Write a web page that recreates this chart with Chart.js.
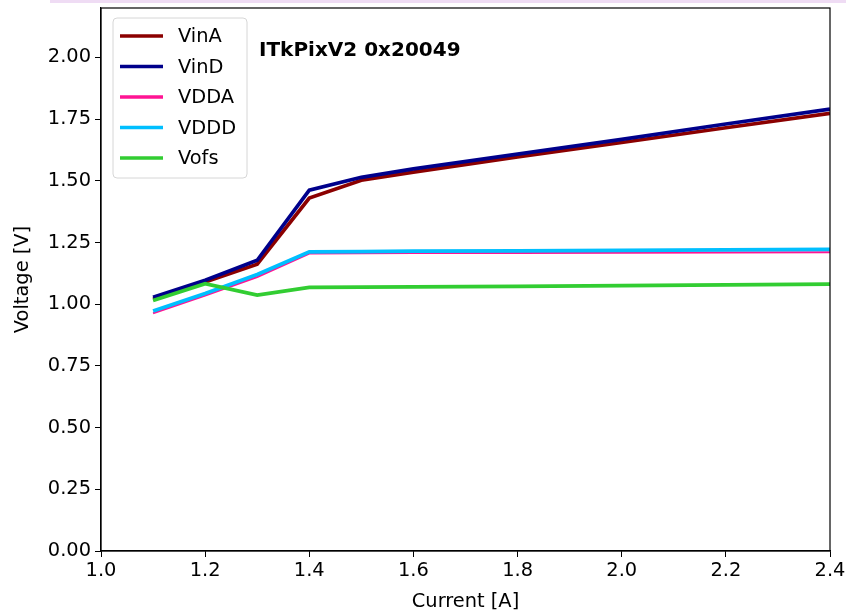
<!DOCTYPE html>
<html>
<head>
<meta charset="utf-8">
<script src="https://cdn.jsdelivr.net/npm/chart.js@4"></script>
<style>
  body { margin: 0; background: #fff; }
  #wrap { position: relative; width: 846px; height: 614px; }
  #strip { position: absolute; left: 50px; top: 0; width: 796px; height: 3px; background: #efdcf4; }
</style>
</head>
<body>
<div id="wrap">
  <canvas id="c" width="846" height="614"></canvas>
  <div id="strip"></div>
</div>
<script>
// measured supply voltages vs input current
const current = [1.1, 1.2, 1.3, 1.4, 1.5, 1.6, 1.8, 2.0, 2.2, 2.4];
const vinA = [1.02, 1.09, 1.162, 1.43, 1.502, 1.535, 1.597, 1.655, 1.715, 1.773];
const vinD = [1.028, 1.097, 1.178, 1.462, 1.514, 1.548, 1.608, 1.668, 1.73, 1.79];
const vdda = [0.963, 1.035, 1.11, 1.205, 1.206, 1.207, 1.207, 1.208, 1.209, 1.21];
const vddd = [0.972, 1.043, 1.12, 1.212, 1.213, 1.215, 1.216, 1.218, 1.22, 1.222];
const vofs = [1.015, 1.083, 1.037, 1.068, 1.069, 1.07, 1.072, 1.075, 1.078, 1.081];

const names = ['VinA', 'VinD', 'VDDA', 'VDDD', 'Vofs'];
const colors = ['#8b0000', '#00008b', '#ff1493', '#00bfff', '#32cd32'];
const widths = [3.7, 3.7, 2, 3.7, 3.7];
const series = [vinA, vinD, vdda, vddd, vofs];

const xTicks = [1.0, 1.2, 1.4, 1.6, 1.8, 2.0, 2.2, 2.4];
const yTicks = [0, 0.25, 0.5, 0.75, 1.0, 1.25, 1.5, 1.75, 2.0];

const FONT = 'DejaVu Sans';
const FS = 19.4;

const datasets = series.map((s, i) => ({
  label: names[i],
  data: s.map((v, j) => ({x: current[j], y: v})),
  borderColor: colors[i],
  backgroundColor: colors[i],
  borderWidth: widths[i],
  pointRadius: 0,
  tension: 0,
  order: 5 - i
}));

// frame, title and legend inside the axes
const extras = {
  id: 'extras',
  afterDraw(chart) {
    const ctx = chart.ctx;
    const a = chart.chartArea;
    ctx.save();
    ctx.strokeStyle = '#000';
    ctx.lineWidth = 1.2;
    ctx.strokeRect(a.left, a.top, a.right - a.left, a.bottom - a.top);

    ctx.fillStyle = '#000';
    ctx.font = 'bold 20px "' + FONT + '"';
    ctx.textBaseline = 'middle';
    ctx.fillText('ITkPixV2 0x20049', 259, 51);

    // legend box
    const bx = 113, by = 18, bw = 134, bh = 160, r = 4;
    ctx.beginPath();
    ctx.moveTo(bx + r, by);
    ctx.arcTo(bx + bw, by, bx + bw, by + bh, r);
    ctx.arcTo(bx + bw, by + bh, bx, by + bh, r);
    ctx.arcTo(bx, by + bh, bx, by, r);
    ctx.arcTo(bx, by, bx + bw, by, r);
    ctx.closePath();
    ctx.fillStyle = 'rgba(255,255,255,0.8)';
    ctx.fill();
    ctx.strokeStyle = '#d6d6d6';
    ctx.lineWidth = 1;
    ctx.stroke();

    ctx.font = FS + 'px "' + FONT + '"';
    names.forEach((n, i) => {
      const y = 36 + i * 30.5;
      ctx.strokeStyle = colors[i];
      ctx.lineWidth = 3.7;
      ctx.beginPath();
      ctx.moveTo(120, y);
      ctx.lineTo(163, y);
      ctx.stroke();
      ctx.fillStyle = '#000';
      ctx.fillText(n, 178, y + 1);
    });
    ctx.restore();
  }
};

new Chart(document.getElementById('c'), {
  type: 'line',
  data: { datasets: datasets },
  options: {
    responsive: false,
    animation: false,
    layout: { padding: { top: 8, right: 16, left: 11, bottom: 0 } },
    plugins: { legend: { display: false }, tooltip: { enabled: false } },
    scales: {
      x: {
        type: 'linear',
        min: 1.0,
        max: 2.4,
        afterBuildTicks: s => { s.ticks = xTicks.map(v => ({value: v})); },
        afterFit: s => { s.height = 63; s.paddingLeft = 0; s.paddingRight = 0; },
        grid: { drawOnChartArea: false, color: '#000', tickLength: 6, tickWidth: 1 },
        border: { color: '#000', width: 1.2 },
        ticks: { color: '#000', font: { family: FONT, size: FS }, padding: 2,
                 maxRotation: 0, callback: v => v.toFixed(1) },
        title: { display: true, text: 'Current [A]', color: '#000',
                 font: { family: FONT, size: FS }, padding: { top: 0, bottom: 0 } }
      },
      y: {
        min: 0,
        max: 2.2,
        afterBuildTicks: s => { s.ticks = yTicks.map(v => ({value: v})); },
        afterFit: s => { s.width = 90; s.paddingTop = 0; s.paddingBottom = 0; },
        grid: { drawOnChartArea: false, color: '#000', tickLength: 6, tickWidth: 1 },
        border: { color: '#000', width: 1.2 },
        ticks: { color: '#000', font: { family: FONT, size: FS }, padding: 4,
                 callback: v => v.toFixed(2) },
        title: { display: true, text: 'Voltage [V]', color: '#000',
                 font: { family: FONT, size: FS }, padding: { top: 0, bottom: 0 } }
      }
    }
  },
  plugins: [extras]
});
</script>
</body>
</html>
